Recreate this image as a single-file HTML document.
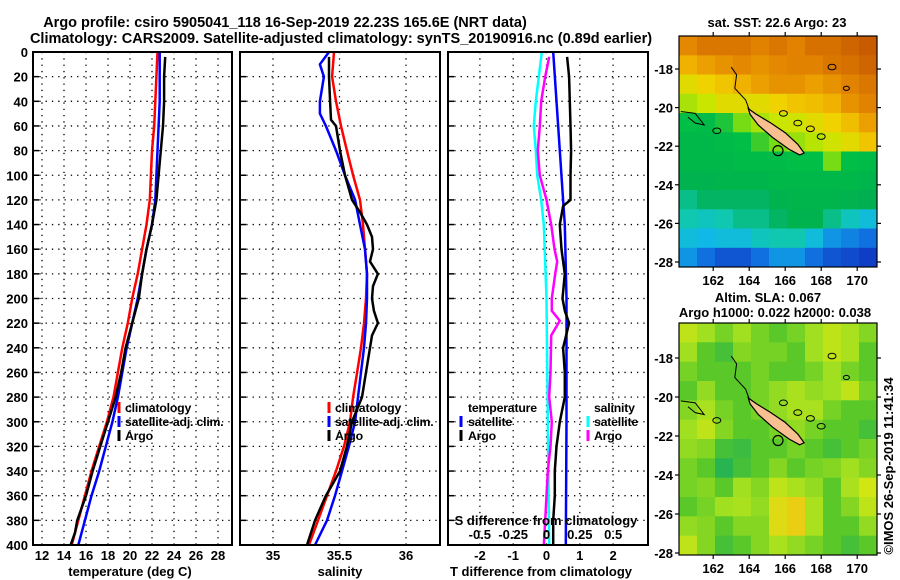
<!DOCTYPE html>
<html><head><meta charset="utf-8">
<style>
html,body{margin:0;padding:0;background:#fff;}
svg{display:block;}
text{font-family:"Liberation Sans",Arial,sans-serif;font-weight:bold;font-size:13px;fill:#000;}
</style></head>
<body>
<svg id="fig" width="900" height="580" viewBox="0 0 900 580" xmlns="http://www.w3.org/2000/svg">
<text x="285" y="27" text-anchor="middle" style="font-size:14.5px">Argo profile: csiro 5905041_118 16-Sep-2019 22.23S 165.6E (NRT data)</text>
<text x="341" y="43" text-anchor="middle" style="font-size:14.5px">Climatology: CARS2009. Satellite-adjusted climatology: synTS_20190916.nc (0.89d earlier)</text>
<g id="layer"></g>
</svg>
<script>
// ---- depth axis
const depthTicks = [0,20,40,60,80,100,120,140,160,180,200,220,240,260,280,300,320,340,360,380,400];
// ---- temperature panel
const tDepths = [0,20,40,60,80,100,120,140,160,180,200,220,240,260,280,300,320,340,360,380,400];
const tClim   = [22.5,22.4,22.3,22.2,22.0,21.9,21.8,21.5,21.1,20.7,20.2,19.8,19.3,18.9,18.5,17.9,17.2,16.5,15.9,15.3,14.7];
const tSat    = [22.7,22.7,22.7,22.6,22.5,22.4,22.3,22.0,21.5,21.1,20.7,20.2,19.7,19.3,18.9,18.4,17.8,17.2,16.5,15.9,15.3];
const tArgoDepths = [4,20,40,60,80,100,120,140,160,180,200,220,240,260,280,300,320,340,360,380,390,400];
const tArgo   = [23.2,23.1,23.1,23.0,22.8,22.6,22.4,22.0,21.5,21.1,20.8,20.2,19.6,19.2,18.7,18.0,17.3,16.6,16.0,15.2,15.0,14.6];
const tTicks = [12,14,16,18,20,22,24,26,28];
// ---- salinity panel
const sClimDepths = [0,20,40,60,80,100,120,140,160,180,200,220,240,260,280,300,320,340,360,380,400];
const sClim = [35.459,35.444,35.474,35.511,35.556,35.602,35.654,35.677,35.692,35.707,35.699,35.684,35.662,35.632,35.602,35.579,35.534,35.474,35.406,35.338,35.271];
const sSatDepths = [0,10,20,30,40,50,60,80,100,120,140,160,180,200,220,240,260,280,300,320,340,360,380,400];
const sSat = [35.421,35.353,35.383,35.368,35.353,35.353,35.398,35.474,35.541,35.617,35.654,35.692,35.707,35.707,35.699,35.684,35.662,35.639,35.617,35.571,35.519,35.466,35.406,35.316];
const sArgoDepths = [4,20,40,55,60,80,100,120,130,140,150,160,170,180,190,200,210,220,230,240,260,280,300,320,340,350,360,380,390,400];
const sArgo = [35.421,35.421,35.429,35.436,35.474,35.504,35.541,35.594,35.654,35.707,35.744,35.752,35.729,35.789,35.752,35.744,35.759,35.789,35.744,35.729,35.699,35.669,35.594,35.556,35.504,35.451,35.398,35.316,35.286,35.256];
const sTicks = [35,35.5,36];
// ---- difference panel
const dTDepths = [0,40,80,120,140,200,300,400];
const dTSat = [0.2,0.3,0.4,0.5,0.55,0.6,0.6,0.58];
const dTArgoDepths = [4,20,40,60,80,100,120,125,140,160,180,200,210,220,240,260,280,300,320,340,360,380,400];
const dTArgo = [0.62,0.68,0.7,0.72,0.74,0.72,0.72,0.5,0.4,0.45,0.55,0.48,0.55,0.68,0.5,0.55,0.55,0.4,0.3,0.25,0.25,0.2,0.2];
const dSDepths = [0,40,60,80,100,120,140,200,300,400];
const dSSat = [-0.035,-0.08,-0.095,-0.08,-0.07,-0.04,-0.02,0.0,0.01,0.02];
const dSArgoDepths = [4,20,40,60,80,100,120,140,160,170,180,200,210,218,230,260,280,300,320,340,360,380,400];
const dSArgo = [0.02,-0.01,-0.04,-0.05,-0.065,-0.05,0.0,0.035,0.06,0.08,0.065,0.04,0.04,0.1,0.035,0.03,0.02,0.04,0.03,0.01,0.0,-0.01,-0.02];
const dTTicks = [-2,-1,0,1,2];
const dSTicks = [-0.5,-0.25,0,0.25,0.5];
const dSTickLabels = ["-0.5","-0.25","0","0.25","0.5"];
// ---- maps
const mapLons = [162,164,166,168,170];
const sstLats = [-18,-20,-22,-24,-26,-28];
const slaLats = [-18,-20,-22,-24,-26,-28];
const sstGrid = [
[25.2,25.5,25.5,25.5,25.3,25.5,25.3,25.6,25.6,25.8,26.0],
[24.5,24.8,25.0,25.2,25.0,25.2,25.3,25.3,25.5,25.6,25.8],
[23.8,24.0,24.2,24.5,24.8,25.0,25.0,24.8,25.0,25.3,25.5],
[23.3,23.5,23.8,23.8,23.8,24.0,24.2,24.3,24.5,25.0,25.3],
[22.6,22.5,22.7,23.0,23.3,23.5,23.6,23.8,24.0,24.3,24.8],
[22.4,22.4,22.5,22.6,22.8,23.0,23.2,23.4,23.6,23.8,24.2],
[22.4,22.4,22.4,22.5,22.5,22.5,22.6,22.6,23.0,22.6,22.5],
[22.2,22.2,22.3,22.3,22.3,22.4,22.4,22.4,22.4,22.4,22.3],
[21.8,22.0,22.0,22.0,22.0,22.2,22.3,22.3,22.3,22.2,22.1],
[21.6,21.5,21.6,21.8,21.8,22.0,22.2,22.2,21.8,21.5,21.3],
[21.3,21.2,21.3,21.3,21.5,21.6,21.6,21.3,21.0,20.9,20.8],
[21.0,20.8,20.6,20.6,20.8,21.0,21.0,20.8,20.6,20.5,20.4]];
const slaGrid = [
[0.08,0.05,0.02,0.05,0.02,0.0,0.02,0.05,0.08,0.06,0.03],
[0.05,0.0,-0.02,0.03,0.02,0.02,0.0,0.05,0.08,0.06,0.0],
[0.02,0.0,0.0,0.0,0.02,0.0,0.0,0.02,0.05,0.02,0.0],
[0.0,0.04,0.0,0.0,0.02,0.04,0.06,0.04,0.05,0.08,0.02],
[0.03,0.06,0.02,0.0,0.02,0.04,0.06,0.06,0.02,0.0,0.0],
[0.05,0.08,0.03,0.0,0.0,0.02,0.04,0.02,0.0,0.0,-0.02],
[0.04,0.03,-0.02,-0.03,0.0,0.0,0.02,0.0,-0.02,0.0,0.02],
[0.02,0.0,-0.05,-0.02,0.0,0.03,0.0,0.02,0.03,0.05,0.03],
[0.02,0.03,0.0,0.05,0.03,0.08,0.06,0.04,0.0,0.06,0.1],
[0.0,0.02,0.05,0.06,0.04,0.12,0.14,0.06,0.0,0.03,0.08],
[0.04,0.03,0.0,0.03,0.03,0.12,0.14,0.06,0.0,0.0,0.04],
[0.08,0.03,-0.02,0.0,0.03,0.06,0.04,0.02,0.0,-0.02,0.0]];
const argoLon = 165.6, argoLat = -22.23;
const islandLon = [163.95,164.4,165.2,166.0,166.7,167.05,166.8,166.2,165.3,164.5,164.05];
const islandLat = [-20.05,-20.35,-20.8,-21.3,-21.9,-22.35,-22.45,-22.15,-21.55,-20.9,-20.35];

const NS="http://www.w3.org/2000/svg";
const layer=document.getElementById('layer');
function mk(tag,attrs,parent){const e=document.createElementNS(NS,tag);for(const k in attrs)e.setAttribute(k,attrs[k]);(parent||layer).appendChild(e);return e;}
function txt(x,y,s,anchor,parent){const e=mk('text',{x:x,y:y,'text-anchor':anchor||'start'},parent);e.textContent=s;return e;}

const TOP=52,BOT=545;
const yD=d=>TOP+(BOT-TOP)*d/400;
const panels=[{x0:33,x1:232},{x0:240,x1:440},{x0:448,x1:648}];
const xT=v=>42+(v-12)*11;
const xS=v=>273+(v-35)*133;
const xDT=v=>546.5+v*33.3;
const xDS=v=>546.5+v*133.3;

function dotted(x1,y1,x2,y2,g){mk('line',{x1:x1,y1:y1,x2:x2,y2:y2,stroke:'#000','stroke-width':1.3,'stroke-dasharray':'1.3 5'},g);}
function drawLine(xs,ys,xf,color,name,w){
  const pts=xs.map((v,i)=>xf(v).toFixed(1)+','+yD(ys[i]).toFixed(1)).join(' ');
  const p=mk('polyline',{points:pts,fill:'none',stroke:color,'stroke-width':w||2.5,'stroke-linejoin':'miter'});
  
  
}
function frame(p,name){
  const g=mk('g',{});
  
  
  depthTicks.forEach(d=>{dotted(p.x0,yD(d),p.x1,yD(d),g);mk('line',{x1:p.x0,y1:yD(d),x2:p.x0+6,y2:yD(d),stroke:'#000','stroke-width':1.5},g);});
  return g;
}
function box(p){mk('rect',{x:p.x0,y:TOP,width:p.x1-p.x0,height:BOT-TOP,fill:'none',stroke:'#000','stroke-width':2});}
function legendMark(x,y,color){mk('line',{x1:x,y1:y-10,x2:x,y2:y+1,stroke:color,'stroke-width':3});}
function legText(x,y,s,name){const e=txt(x,y,s);e.setAttribute('style','font-size:12.3px;letter-spacing:-0.2px');return e;}

// Panel 1
let g1=frame(panels[0],'temperature-grid');
tTicks.forEach(t=>{dotted(xT(t),TOP,xT(t),BOT,g1);const e=txt(xT(t),560,String(t),'middle');});
depthTicks.forEach(d=>{const e=txt(28,yD(d)+5,String(d),'end');});
drawLine(tClim,tDepths,xT,'#ff0000','temperature-climatology-line');
drawLine(tSat,tDepths,xT,'#0000ff','temperature-satellite-line');
drawLine(tArgo,tArgoDepths,xT,'#000000','temperature-argo-line');
box(panels[0]);
txt(130,576,'temperature (deg C)','middle');
[['climatology','#f00',412],['satellite-adj. clim.','#00f',426],['Argo','#000',440]].forEach(l=>{legendMark(119,l[2],l[1]);legText(125,l[2],l[0],'temperature-legend-entry');});

// Panel 2
let g2=frame(panels[1],'salinity-grid');
sTicks.forEach(s=>{dotted(xS(s),TOP,xS(s),BOT,g2);const e=txt(xS(s),560,String(s),'middle');});
drawLine(sClim,sClimDepths,xS,'#ff0000','salinity-climatology-line');
drawLine(sSat,sSatDepths,xS,'#0000ff','salinity-satellite-line');
drawLine(sArgo,sArgoDepths,xS,'#000000','salinity-argo-line');
box(panels[1]);
txt(340,576,'salinity','middle');
[['climatology','#f00',412],['satellite-adj. clim.','#00f',426],['Argo','#000',440]].forEach(l=>{legendMark(329,l[2],l[1]);legText(335,l[2],l[0],'salinity-legend-entry');});

// Panel 3
let g3=frame(panels[2],'difference-grid');
dTTicks.forEach(t=>{dotted(xDT(t),TOP,xDT(t),BOT,g3);const e=txt(xDT(t),560,String(t),'middle');});
drawLine(dTSat,dTDepths,xDT,'#0000ff','t-difference-satellite-line');
drawLine(dTArgo,dTArgoDepths,xDT,'#000000','t-difference-argo-line');
drawLine(dSSat,dSDepths,xDS,'#00ffff','s-difference-satellite-line');
drawLine(dSArgo,dSArgoDepths,xDS,'#ff00ff','s-difference-argo-line');
box(panels[2]);
dSTicks.forEach((s,i)=>{const e=txt(xDS(s),539,dSTickLabels[i],'middle');});
txt(546,525,'S difference from climatology','middle');
txt(541,576,'T difference from climatology','middle');
legText(468,412,'temperature','legend-temperature-heading');
[['satellite','#00f',426],['Argo','#000',440]].forEach(l=>{legendMark(461,l[2],l[1]);legText(468,l[2],l[0],'t-difference-legend-entry');});
legText(594,412,'salinity','legend-salinity-heading');
[['satellite','#0ff',426],['Argo','#f0f',440]].forEach(l=>{legendMark(588,l[2],l[1]);legText(594,l[2],l[0],'s-difference-legend-entry');});

// ---- maps
function lerpCol(stops,v){
  if(v<=stops[0][0])return 'rgb('+stops[0][1].join(',')+')';
  for(let i=1;i<stops.length;i++){if(v<=stops[i][0]){const a=stops[i-1],b=stops[i];const f=(v-a[0])/(b[0]-a[0]);
    const c=a[1].map((x,k)=>Math.round(x+(b[1][k]-x)*f));return 'rgb('+c.join(',')+')';}}
  const l=stops[stops.length-1][1];return 'rgb('+l.join(',')+')';
}
const sstStops=[[20.3,[16,48,192]],[20.8,[16,112,224]],[21.2,[16,184,232]],[21.6,[16,200,176]],[22.1,[0,176,80]],[22.6,[0,190,70]],[23.0,[120,220,20]],[23.5,[200,230,0]],[24.0,[240,210,0]],[24.6,[240,170,0]],[25.3,[225,130,0]],[26.0,[200,90,0]]];
const slaStops=[[-0.1,[16,144,112]],[-0.05,[40,180,80]],[0,[90,200,40]],[0.05,[160,224,32]],[0.1,[210,230,20]],[0.15,[240,200,20]],[0.2,[240,160,0]]];
function drawMap(m,grid,stops,lats,name){
  const lon0=160.1,lon1=171.1;
  const xL=lon=>m.x0+(lon-lon0)*(m.x1-m.x0)/(lon1-lon0);
  const yL=lat=>m.yRef+(m.latRef-lat)*m.pxDeg;
  const g=mk('g',{});
  
  
  const clip=mk('clipPath',{id:name+'-clip'},g);
  mk('rect',{x:m.x0,y:m.y0,width:m.x1-m.x0,height:m.y1-m.y0},clip);
  const cg=mk('g',{'clip-path':'url(#'+name+'-clip)'},g);
  const rows=grid.length,cols=grid[0].length;
  const cw=(m.x1-m.x0)/cols,ch=(m.y1-m.y0)/rows;
  grid.forEach((row,r)=>row.forEach((v,c)=>{
    const rc=mk('rect',{x:(m.x0+c*cw).toFixed(1),y:(m.y0+r*ch).toFixed(1),width:(cw+0.6).toFixed(1),height:(ch+0.6).toFixed(1),fill:lerpCol(stops,v)},cg);
    
    
  }));
  const pts=islandLon.map((lo,i)=>xL(lo).toFixed(1)+','+yL(islandLat[i]).toFixed(1)).join(' ');
  const isl=mk('polygon',{points:pts,fill:'#f8c090',stroke:'#000','stroke-width':1.2},cg);
  
  
  mk('path',{d:`M${xL(163.0)},${yL(-17.9)} L${xL(163.3)},${yL(-18.3)} L${xL(163.2)},${yL(-19.0)} L${xL(163.8)},${yL(-19.6)} L${xL(164.0)},${yL(-20.1)} M${xL(160.2)},${yL(-20.2)} L${xL(161.0)},${yL(-20.3)} L${xL(161.5)},${yL(-20.9)} L${xL(161.0)},${yL(-20.8)} L${xL(160.6)},${yL(-20.5)}`,fill:'none',stroke:'#000','stroke-width':1},cg);
  [[162.2,-21.2,4],[165.9,-20.3,4],[166.7,-20.8,4],[167.4,-21.1,4],[168.0,-21.5,4],[168.6,-17.9,4],[169.4,-19.0,3]].forEach(e=>{
    mk('ellipse',{cx:xL(e[0]),cy:yL(e[1]),rx:e[2],ry:e[2]*0.7,fill:'none',stroke:'#000','stroke-width':1},cg);
  });
  const ac=mk('circle',{cx:xL(argoLon),cy:yL(argoLat),r:5,fill:'none',stroke:'#000','stroke-width':1.2},cg);
  
  
  mk('rect',{x:m.x0,y:m.y0,width:m.x1-m.x0,height:m.y1-m.y0,fill:'none',stroke:'#000','stroke-width':1.2},g);
  mapLons.forEach(lo=>{const x=xL(lo);
    mk('line',{x1:x,y1:m.y1,x2:x,y2:m.y1+4,stroke:'#000','stroke-width':1.2},g);
    mk('line',{x1:x,y1:m.y0,x2:x,y2:m.y0-4,stroke:'#000','stroke-width':1.2},g);
    const e=txt(x,m.y1+18,String(lo),'middle',g);});
  lats.forEach(la=>{const y=yL(la);if(y<m.y0||y>m.y1)return;
    mk('line',{x1:m.x0,y1:y,x2:m.x0-4,y2:y,stroke:'#000','stroke-width':1.2},g);
    mk('line',{x1:m.x1,y1:y,x2:m.x1+4,y2:y,stroke:'#000','stroke-width':1.2},g);
    const e=txt(m.x0-6,y+5,String(la),'end',g);});
}
drawMap({x0:679,x1:877,y0:36,y1:267,yRef:69,latRef:-18,pxDeg:19.3},sstGrid,sstStops,sstLats,'sst-map');
drawMap({x0:679,x1:877,y0:323,y1:555,yRef:397,latRef:-20,pxDeg:19.5},slaGrid,slaStops,slaLats,'sla-map');
txt(777,27,'sat. SST: 22.6 Argo: 23','middle');
txt(768,302,'Altim. SLA: 0.067','middle');
txt(775,317,'Argo h1000: 0.022 h2000: 0.038','middle');
const cr=txt(0,0,'©IMOS 26-Sep-2019 11:41:34','middle');
cr.setAttribute('transform','translate(893,466) rotate(-90)');


</script>
</body></html>
